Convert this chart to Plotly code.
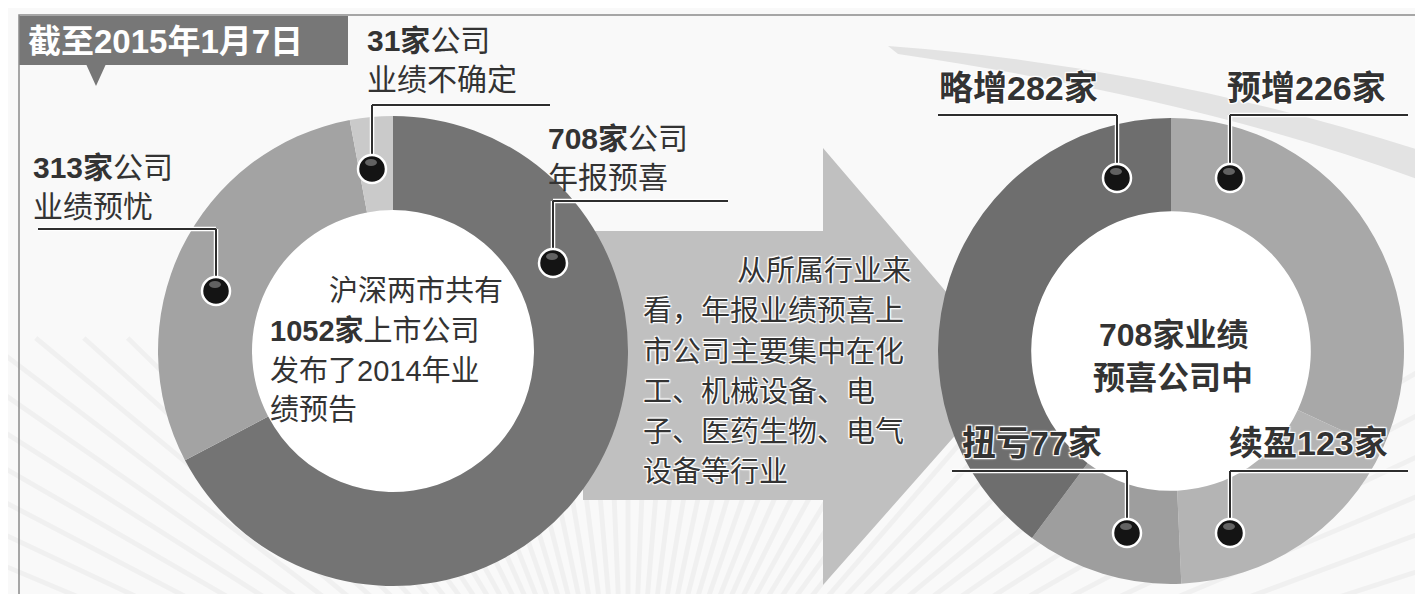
import math
import plotly.graph_objects as go

# ---------------- data ----------------
date_label = "截至2015年1月7日"
total_companies = 1052
left_labels = ["年报预喜", "业绩预忧", "业绩不确定"]
left_values = [708, 313, 31]
left_colors = ["#747474", "#a3a3a3", "#cacaca"]

right_labels = ["预增", "续盈", "扭亏", "略增"]
right_values = [226, 123, 77, 282]
right_colors = ["#a8a8a8", "#b4b4b4", "#9e9e9e", "#6e6e6e"]

middle_lines = ["从所属行业来", "看，年报业绩预喜上", "市公司主要集中在化",
                "工、机械设备、电", "子、医药生物、电气", "设备等行业"]

W, H = 1423, 594
FONT = "Liberation Sans, Noto Sans CJK SC"
TXT = "#333333"
HALO = ("1px 1px 1px #fff, -1px -1px 1px #fff, 1px -1px 1px #fff, "
        "-1px 1px 1px #fff, 0 0 3px #fff")

def dom_x(cx, r):
    return [(cx - r) / W, (cx + r) / W]

def dom_y(cy, r):
    return [(H - cy - r) / H, (H - cy + r) / H]

fig = go.Figure()
fig.add_trace(go.Scatter(x=[0, W], y=[0, H], mode="markers",
                         marker=dict(opacity=0), hoverinfo="skip", showlegend=False))

LC = (385, 343, 235)
RC = (1163, 343, 233)
fig.add_trace(go.Pie(labels=left_labels, values=left_values, hole=0.6, sort=False,
                     direction="clockwise", rotation=0, textinfo="none",
                     marker=dict(colors=left_colors, line=dict(width=0)),
                     domain=dict(x=dom_x(LC[0], LC[2]), y=dom_y(LC[1], LC[2])),
                     hoverinfo="label+value", showlegend=False))
fig.add_trace(go.Pie(labels=right_labels, values=right_values, hole=0.6, sort=False,
                     direction="clockwise", rotation=0, textinfo="none",
                     marker=dict(colors=right_colors, line=dict(width=0)),
                     domain=dict(x=dom_x(RC[0], RC[2]), y=dom_y(RC[1], RC[2])),
                     hoverinfo="label+value", showlegend=False))

shapes = []
# background stripes (decoration), only in the lower part
ox, oy = 620, 820
a = 18.0
ystop = 330
while a <= 168:
    t = math.radians(a)
    r2 = (oy - ystop) / math.sin(t)
    shapes.append(dict(type="line", layer="below", xref="x", yref="y",
                       x0=ox, y0=oy, x1=ox + r2 * math.cos(t), y1=oy - r2 * math.sin(t),
                       line=dict(color="rgba(0,0,0,0.035)", width=5)))
    a += 2.4
# swoosh top-right
shapes.append(dict(type="path", layer="below", xref="x", yref="y",
                   path="M 880 38 Q 1150 58 1420 145 L 1420 175 Q 1200 92 890 46 Z",
                   fillcolor="#e3e3e3", line=dict(width=0)))
# big arrow
shapes.append(dict(type="path", layer="below", xref="x", yref="y",
                   path="M 575 223 L 815 223 L 815 140 L 1005 362 L 815 577 L 815 492 L 575 492 Z",
                   fillcolor="#c0c0c0", line=dict(width=0)))
# donut holes
for cx, cy, _ in (LC, RC):
    shapes.append(dict(type="circle", layer="below", xref="x", yref="y",
                       x0=cx - 141, x1=cx + 141, y0=cy - 141, y1=cy + 141,
                       fillcolor="#ffffff", line=dict(width=0)))
# title box
shapes.append(dict(type="rect", layer="below", xref="x", yref="y", x0=11, y0=8, x1=340, y1=57,
                   fillcolor="#777777", line=dict(width=0)))
shapes.append(dict(type="path", layer="below", xref="x", yref="y",
                   path="M 78 56 L 98 56 L 88 78 Z", fillcolor="#777777", line=dict(width=0)))
# border
shapes.append(dict(type="path", layer="above", xref="x", yref="y",
                   path="M 11 7 L 1419 7 L 1419 560 Q 1419 591 1388 591 L 11 591 Z",
                   line=dict(color="#8a8a8a", width=1.5)))

# leader lines + balls
leaders = [
    ((364, 97), (542, 97), (364, 161)),
    ((30, 221), (208, 221), (208, 283)),
    ((545, 193), (720, 193), (545, 255)),
    ((930, 107), (1109, 107), (1109, 170)),
    ((1222, 107), (1400, 107), (1222, 170)),
    ((944, 463), (1119, 463), (1119, 525)),
    ((1222, 463), (1400, 463), (1222, 525)),
]
for (hx0, hy), (hx1, _), (bx, by) in leaders:
    for col, wd in (("#ffffff", 4.5), ("#2e2e2e", 2)):
        shapes.append(dict(type="line", layer="above", xref="x", yref="y",
                           x0=hx0, y0=hy, x1=hx1, y1=hy, line=dict(color=col, width=wd)))
        shapes.append(dict(type="line", layer="above", xref="x", yref="y",
                           x0=bx, y0=hy, x1=bx, y1=by - 10, line=dict(color=col, width=wd)))
    shapes.append(dict(type="circle", layer="above", xref="x", yref="y",
                       x0=bx - 14, x1=bx + 14, y0=by - 14, y1=by + 14,
                       fillcolor="#141414", line=dict(color="#ffffff", width=2.5)))
    shapes.append(dict(type="circle", layer="above", xref="x", yref="y",
                       x0=bx - 7, x1=bx + 5, y0=by - 10, y1=by - 3,
                       fillcolor="rgba(150,150,150,0.6)", line=dict(width=0)))

annotations = []

def ann(text, x, y, size, anchor="left", color=TXT, shadow=None):
    f = dict(family=FONT, size=size, color=color)
    if shadow:
        f["shadow"] = shadow
    annotations.append(dict(text=text, x=x, y=y, xref="x", yref="y", xanchor=anchor,
                            yanchor="middle", showarrow=False, font=f, align=anchor))

ann(f"<b>{date_label}</b>", 18, 33, 33, color="#ffffff")
# left donut labels (two lines each)
ann(f"<b>{left_values[2]}家</b>公司<br>{left_labels[2]}", 357, 52, 30)
ann(f"<b>{left_values[1]}家</b>公司<br>{left_labels[1]}", 23, 179, 30)
ann(f"<b>{left_values[0]}家</b>公司<br>{left_labels[0]}", 538, 150, 30)
# left center
ann("沪深两市共有", 497, 283, 29, anchor="right")
ann(f"<b>{total_companies}家</b>上市公司", 260, 323, 29)
ann("发布了2014年业", 260, 363, 29)
ann("绩预告", 260, 402, 29)
# middle text
ann(middle_lines[0], 905, 263, 29, anchor="right", shadow=HALO)
for i, ln in enumerate(middle_lines[1:]):
    ann(ln, 633, [303, 344, 384, 424, 464][i], 29, shadow=HALO)
# right center
ann(f"<b>{left_values[0]}家业绩</b>", 1165, 327, 32, anchor="center")
ann("<b>预喜公司中</b>", 1165, 370, 32, anchor="center")
# right labels
ann(f"<b>略增{right_values[3]}家</b>", 929, 80, 34, shadow=HALO)
ann(f"<b>预增{right_values[0]}家</b>", 1217, 80, 34, shadow=HALO)
ann(f"<b>扭亏{right_values[2]}家</b>", 952, 435, 34, shadow=HALO)
ann(f"<b>续盈{right_values[1]}家</b>", 1219, 435, 34, shadow=HALO)

fig.update_layout(
    width=W, height=H, margin=dict(l=0, r=0, t=0, b=0),
    paper_bgcolor="#f9f9f9", plot_bgcolor="rgba(0,0,0,0)",
    xaxis=dict(range=[0, W], visible=False, fixedrange=True),
    yaxis=dict(range=[H, 0], visible=False, fixedrange=True),
    showlegend=False, shapes=shapes, annotations=annotations,
)
fig.write_html("out.html")
